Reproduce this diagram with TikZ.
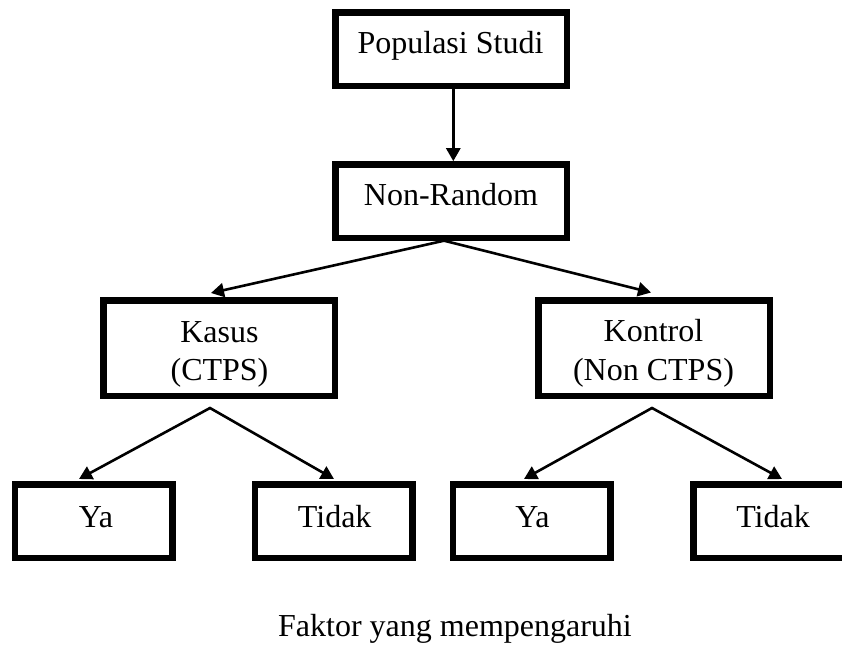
\documentclass[tikz,border=0pt]{standalone}
\usepackage{fontspec}
\setmainfont{Liberation Serif}
\usetikzlibrary{arrows.meta}
\begin{document}
\begin{tikzpicture}[x=1pt,y=-1pt,
  box/.style={draw=black, line width=6.5pt, rectangle, inner sep=0pt, outer sep=0pt},
  topbox/.style={box, minimum width=231.5pt, minimum height=73.5pt},
  midbox/.style={box, minimum width=231.5pt, minimum height=95.5pt},
  leafbox/.style={box, minimum width=157.5pt, minimum height=73.5pt},
  txt/.style={anchor=base, inner sep=0pt, font=\fontsize{32}{38}\selectfont},
  >={Triangle[length=13pt,width=14pt]},
  conn/.style={line width=2.6pt, line join=miter}
]
\useasboundingbox (0,0) rectangle (842,645);
\clip (0,0) rectangle (842,645);

% boxes
\node[topbox]  (pop)     at (451.2,49.2)  {};
\node[topbox]  (nr)      at (451.2,201.2) {};
\node[midbox]  (kasus)   at (219,348)     {};
\node[midbox]  (kontrol) at (654,348)     {};
\node[leafbox] (ya1)     at (93.5,521)    {};
\node[leafbox] (tidak1)  at (333.8,521)   {};
\node[leafbox] (ya2)     at (531.5,521)   {};
\node[leafbox] (tidak2)  at (772,521)     {};

% labels
\node[txt] (pop-t)      at (450.5,53.3)  {Populasi Studi};
\node[txt] (nr-t)       at (451,205)     {Non-Random};
\node[txt] (kasus-t1)   at (219.5,342)   {Kasus};
\node[txt] (kasus-t2)   at (219.5,380.7) {(CTPS)};
\node[txt] (kontrol-t1) at (653.5,341.7) {Kontrol};
\node[txt] (kontrol-t2) at (653.5,380.7) {(Non CTPS)};
\node[txt] (ya1-t)      at (96,527)      {Ya};
\node[txt] (tidak1-t)   at (334.7,527)   {Tidak};
\node[txt] (ya2-t)      at (532.5,527)   {Ya};
\node[txt] (tidak2-t)   at (773,527)     {Tidak};
\node[txt] (caption)    at (455,636.7)   {Faktor yang mempengaruhi};

% connector end points
\coordinate (pop-out)     at (453.3,89.2);
\coordinate (nr-in)       at (453.3,161.2);
\coordinate (nr-out)      at (444,240.7);
\coordinate (kasus-in)    at (211,293);
\coordinate (kontrol-in)  at (651,292.5);
\coordinate (kasus-out)   at (210,408);
\coordinate (kontrol-out) at (652,408);
\coordinate (ya1-in)      at (79,479);
\coordinate (tidak1-in)   at (334,479);
\coordinate (ya2-in)      at (524,479);
\coordinate (tidak2-in)   at (782,479);

% connectors
\draw[conn, ->] (pop-out) -- (nr-in);
\draw[conn, <->] (kasus-in) -- (nr-out) -- (kontrol-in);
\draw[conn, <->] (ya1-in) -- (kasus-out) -- (tidak1-in);
\draw[conn, <->] (ya2-in) -- (kontrol-out) -- (tidak2-in);
\end{tikzpicture}
\end{document}
